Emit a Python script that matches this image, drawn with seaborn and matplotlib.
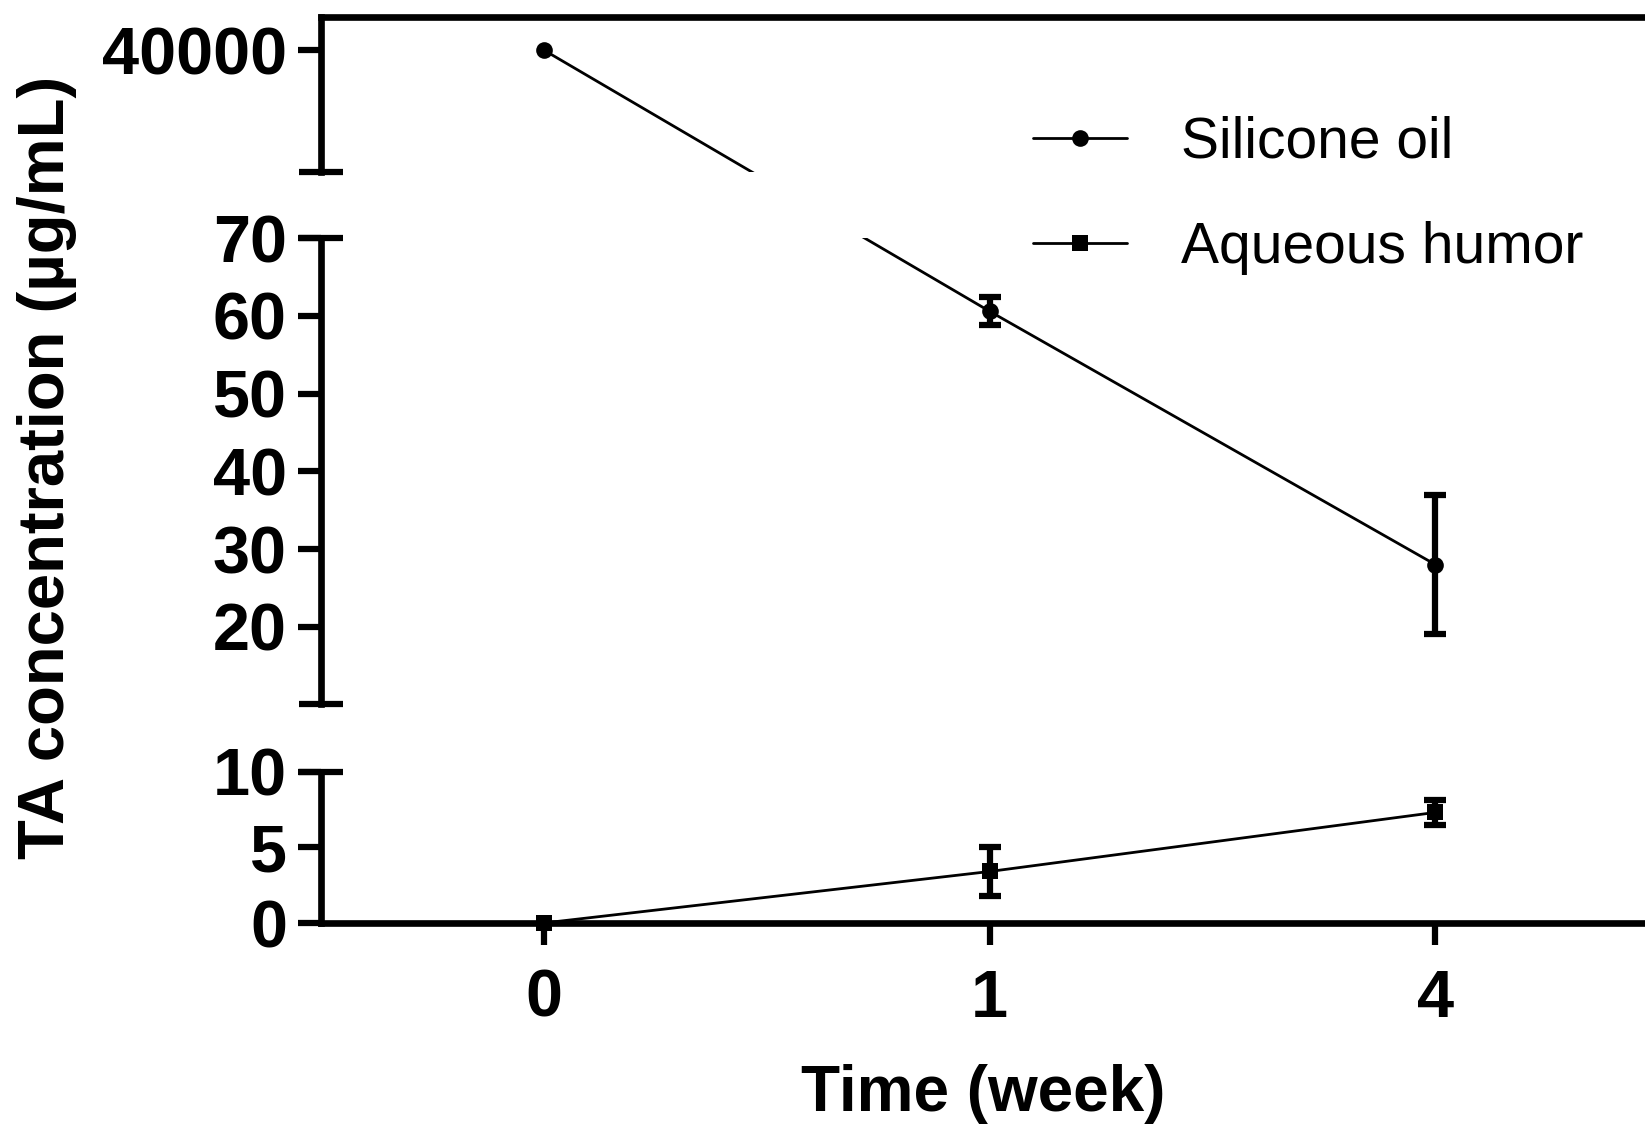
import numpy as np
import matplotlib
matplotlib.use('Agg')
import matplotlib.pyplot as plt
import seaborn as sns

# data (mean +- SD)
weeks = ['0', '1', '4']
silicone_mean = [40000, 60.6, 28.0]
silicone_sd = [0, 1.8, 8.9]
aqueous_mean = [0.0, 3.4, 7.3]
aqueous_sd = [0, 1.6, 0.8]
series_names = ['Silicone oil', 'Aqueous humor']

sns.set_style('ticks')
plt.rcParams['font.family'] = ['Liberation Sans', 'DejaVu Sans']
plt.rcParams['font.weight'] = 'bold'
plt.rcParams['axes.linewidth'] = 4.8
for key in ['text.color', 'axes.labelcolor', 'xtick.color', 'ytick.color', 'axes.edgecolor']:
    plt.rcParams[key] = 'black'

W, H = 1645, 1125
fig = plt.figure(figsize=(W / 100, H / 100), dpi=100)

# broken y axis: value -> pixel row (from top) for the upper two segments
brk_val = np.array([10, 70, 30000, 42750])
brk_t = -np.array([704.5, 238.3, 171.7, 16.7])


def interp_ext(x, xp, fp):
    x = np.asarray(x, dtype=float)
    out = np.interp(x, xp, fp)
    s_lo = (fp[1] - fp[0]) / (xp[1] - xp[0])
    s_hi = (fp[-1] - fp[-2]) / (xp[-1] - xp[-2])
    out = np.where(x < xp[0], fp[0] + (x - xp[0]) * s_lo, out)
    out = np.where(x > xp[-1], fp[-1] + (x - xp[-1]) * s_hi, out)
    return out


def fwd(y):
    return interp_ext(y, brk_val, brk_t)


def inv(t):
    return interp_ext(t, brk_t, brk_val)


def frac(px):
    return 1 - px / H


left = 321 / W
ax_w = 1 - left
ax_top = fig.add_axes([left, frac(171.7), ax_w, (171.7 - 16.7) / H])
ax_mid = fig.add_axes([left, frac(704.5), ax_w, (704.5 - 238.3) / H])
ax_bot = fig.add_axes([left, frac(923), ax_w, (923 - 771.5) / H])

xpos = np.arange(len(weeks))
sil_m = np.array(silicone_mean, dtype=float)
sil_s = np.array(silicone_sd, dtype=float)
aq_m = np.array(aqueous_mean, dtype=float)
aq_s = np.array(aqueous_sd, dtype=float)

line_kw = dict(color='black', linewidth=2, markeredgewidth=0, errorbar=None, legend=False)
err_kw = dict(fmt='none', ecolor='black', elinewidth=4.5, capsize=8, capthick=4.5)

for ax in (ax_top, ax_mid):
    ax.set_yscale('function', functions=(fwd, inv))
    sns.lineplot(x=xpos, y=sil_m, ax=ax, marker='o', markersize=12, **line_kw)
    m = sil_s > 0
    ax.errorbar(xpos[m], sil_m[m], yerr=sil_s[m], **err_kw)

sns.lineplot(x=xpos, y=aq_m, ax=ax_bot, marker='s', markersize=12, clip_on=False, **line_kw)
m = aq_s > 0
ax_bot.errorbar(xpos[m], aq_m[m], yerr=aq_s[m], clip_on=False, **err_kw)

ax_top.set_ylim(30000, 42750)
ax_mid.set_ylim(10, 70)
ax_bot.set_ylim(0, 10)

for ax in (ax_top, ax_mid, ax_bot):
    ax.set_xlim(-0.5, 2.47)
    ax.spines['right'].set_visible(False)
    ax.yaxis.remove_overlapping_locs = False
    ax.tick_params(axis='y', which='major', direction='out', length=16.5, width=4.5,
                   labelsize=48, pad=8)
    ax.tick_params(axis='y', which='minor', direction='inout', length=31, width=4.5)
    ax.set_xlabel('')
    ax.set_ylabel('')

ax_top.spines['bottom'].set_visible(False)
ax_mid.spines['bottom'].set_visible(False)
ax_mid.spines['top'].set_visible(False)
ax_bot.spines['top'].set_visible(False)
for ax in (ax_top, ax_mid):
    ax.tick_params(axis='x', which='both', bottom=False, labelbottom=False)

ax_top.set_yticks([40000])
ax_top.set_yticks([30000], minor=True)
ax_mid.set_yticks([20, 30, 40, 50, 60, 70])
ax_mid.set_yticks([10, 70], minor=True)
ax_bot.set_yticks([0, 5, 10])
ax_bot.set_yticks([10], minor=True)
ax_top.set_yticklabels(['40000'])

ax_bot.set_xticks(xpos)
ax_bot.set_xticklabels(weeks)
ax_bot.tick_params(axis='x', direction='out', length=16, width=4.5, labelsize=48, pad=17)
ax_bot.set_xlabel('Time (week)', fontsize=46, fontweight='bold', labelpad=24)

fig.text(47 / W, frac(467), 'TA concentration (µg/mL)', rotation=90, ha='center',
         va='center', fontsize=47, fontweight='bold')

handles = [ax_mid.lines[0], ax_bot.lines[0]]
fig.legend(handles, series_names, loc='upper left', bbox_to_anchor=(1033 / W, frac(116)),
           frameon=False, prop={'weight': 'normal', 'size': 41}, handlelength=1.65,
           handletextpad=0.95, labelspacing=0.9, borderpad=0, borderaxespad=0)

fig.savefig('out.png', dpi=100)
